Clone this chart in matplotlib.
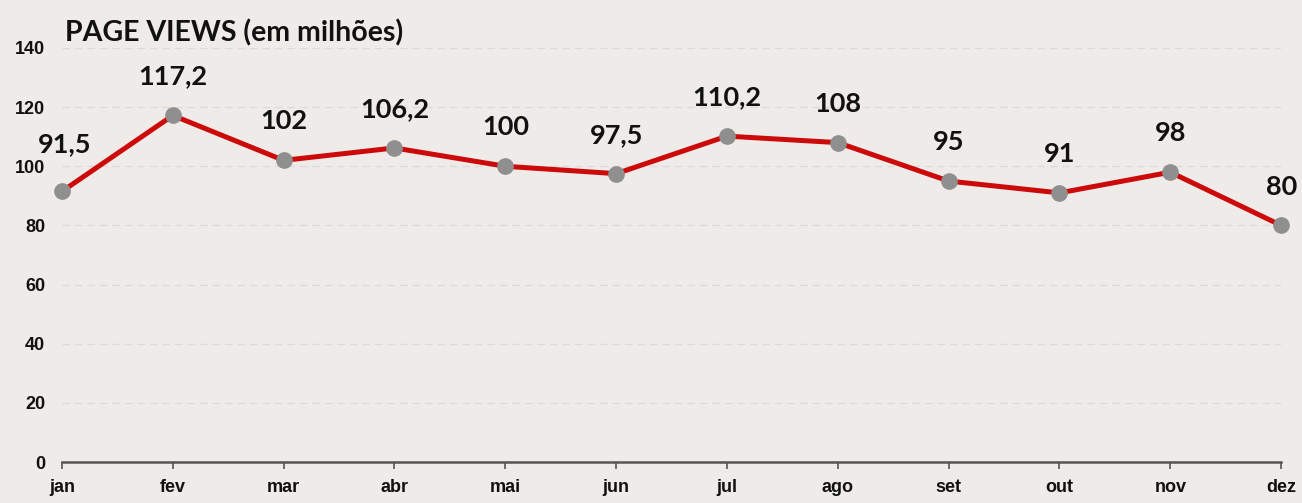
import matplotlib.pyplot as plt

months = ["jan", "fev", "mar", "abr", "mai", "jun", "jul", "ago", "set", "out", "nov", "dez"]
views = [91.5, 117.2, 102, 106.2, 100, 97.5, 110.2, 108, 95, 91, 98, 80]
labels = ["91,5", "117,2", "102", "106,2", "100", "97,5", "110,2", "108", "95", "91", "98", "80"]
yticks = [0, 20, 40, 60, 80, 100, 120, 140]

bg = "#eeebe8"
fig = plt.figure(figsize=(13.02, 5.03), dpi=100, facecolor=bg)
ax = fig.add_axes([0.0476, 0.0815, 0.9364, 0.8231], facecolor=bg)

x = list(range(len(months)))
ax.plot(x, views, color="#cc0a0a", linewidth=3.6, zorder=3, clip_on=False,
        marker="o", markersize=11, markerfacecolor="#8f8f8f", markeredgecolor="#8f8f8f")

for i, (v, lab) in enumerate(zip(views, labels)):
    off = 34 if i == 0 else 28
    ax.annotate(lab, (i, v), xytext=(2 if i == 0 else 0, off), textcoords="offset points",
                ha="center", va="center", fontsize=19.5, fontweight="bold",
                family="Lato", color="#111111")

ax.set_xlim(0, 11)
ax.set_ylim(0, 140)
ax.set_yticks(yticks)
ax.set_xticks(x)
ax.set_xticklabels(months)
for t in ax.get_xticklabels() + ax.get_yticklabels():
    t.set_family("Liberation Sans")
    t.set_fontweight("bold")
    t.set_fontsize(13)
    t.set_color("#111111")

ax.yaxis.grid(True, linestyle=(0, (6, 4)), color="#dcd9d6", linewidth=0.9)
ax.set_axisbelow(True)
for s in ["left", "right", "top"]:
    ax.spines[s].set_visible(False)
ax.spines["bottom"].set_color("#555555")
ax.spines["bottom"].set_linewidth(1.8)
ax.tick_params(axis="y", length=0, pad=12)
ax.tick_params(axis="x", length=5, width=1.2, color="#555555", pad=7)

fig.text(0.05, 0.935, "PAGE VIEWS (em milhões)", fontsize=20.5, fontweight="bold",
         family="Lato", color="#111111", va="center")

fig.savefig("out.png", facecolor=bg)
